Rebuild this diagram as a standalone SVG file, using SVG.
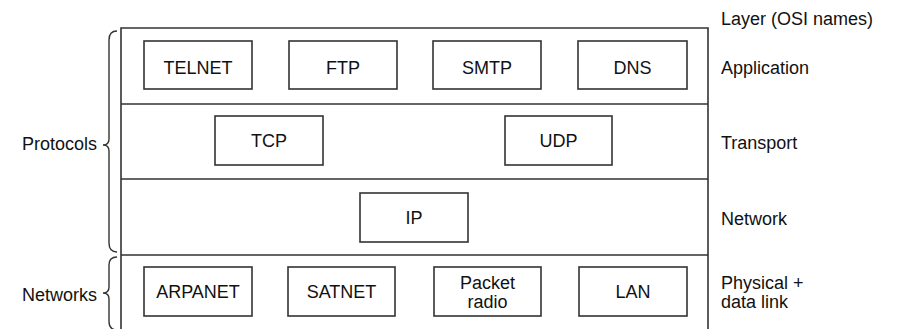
<svg xmlns="http://www.w3.org/2000/svg" width="899" height="329" viewBox="0 0 899 329">
<style>
.frame{fill:none;stroke:#333;stroke-width:1.6}
.box{fill:#fff;stroke:#333;stroke-width:1.6}
.brace{fill:none;stroke:#333;stroke-width:1.4}
text{font-family:"Liberation Sans",Arial,sans-serif;font-size:18px;fill:#111}
.c{text-anchor:middle}
</style>
<rect width="899" height="329" fill="#fff"/>
<g id="frame">
<path class="frame" d="M121,331 V28 H708 V331 M121,104 H708 M121,179 H708 M121,255 H708"/>
</g>
<g id="braces">
<path class="brace" d="M117,31 Q109,31 109,40 L109,139 Q109,145 103,145 Q109,145 109,151 L109,243 Q109,252 117,252"/>
<path class="brace" d="M117,257 Q109,257 109,265 L109,287 Q109,293 103,293 Q109,293 109,299 L109,321 Q109,330 117,330"/>
</g>
<g id="labels">
<text x="22" y="150">Protocols</text>
<text x="22" y="301">Networks</text>
<text x="721" y="25">Layer (OSI names)</text>
<text x="721" y="74">Application</text>
<text x="721" y="149">Transport</text>
<text x="721" y="225">Network</text>
<text x="721" y="289">Physical +</text>
<text x="721" y="308">data link</text>
</g>
<g id="telnet"><rect class="box" x="144" y="41" width="108" height="48"/><text class="c" x="198" y="74">TELNET</text></g>
<g id="ftp"><rect class="box" x="289" y="41" width="108" height="48"/><text class="c" x="343" y="74">FTP</text></g>
<g id="smtp"><rect class="box" x="433" y="41" width="108" height="48"/><text class="c" x="487" y="74">SMTP</text></g>
<g id="dns"><rect class="box" x="578" y="41" width="109" height="48"/><text class="c" x="632.5" y="74">DNS</text></g>
<g id="tcp"><rect class="box" x="215" y="116" width="108" height="49"/><text class="c" x="269" y="147">TCP</text></g>
<g id="udp"><rect class="box" x="505" y="116" width="107" height="49"/><text class="c" x="558.5" y="147">UDP</text></g>
<g id="ip"><rect class="box" x="360" y="193" width="108" height="49"/><text class="c" x="414" y="224">IP</text></g>
<g id="arpanet"><rect class="box" x="144" y="267" width="108" height="49"/><text class="c" x="198" y="298">ARPANET</text></g>
<g id="satnet"><rect class="box" x="288" y="267" width="107" height="49"/><text class="c" x="341.5" y="298">SATNET</text></g>
<g id="packetradio"><rect class="box" x="434" y="267" width="107" height="49"/><text class="c" x="487.5" y="289">Packet</text><text class="c" x="487.5" y="308">radio</text></g>
<g id="lan"><rect class="box" x="579" y="267" width="108" height="49"/><text class="c" x="633" y="298">LAN</text></g>
<g id="connectors"></g>
</svg>
